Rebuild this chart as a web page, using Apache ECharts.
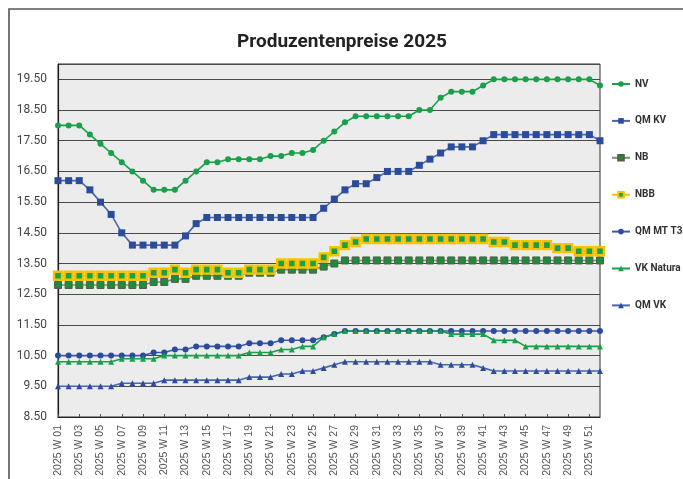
<!DOCTYPE html>
<html>
<head>
<meta charset="utf-8">
<script src="https://cdn.jsdelivr.net/npm/echarts@6/dist/echarts.min.js"></script>
<style>
html,body{margin:0;padding:0;background:#fff;}
#chart{width:683px;height:479px;}
</style>
</head>
<body>
<div id="chart"></div>
<script>
var weeks = ["2025 W 01","2025 W 02","2025 W 03","2025 W 04","2025 W 05","2025 W 06","2025 W 07","2025 W 08","2025 W 09","2025 W 10",
"2025 W 11","2025 W 12","2025 W 13","2025 W 14","2025 W 15","2025 W 16","2025 W 17","2025 W 18","2025 W 19","2025 W 20",
"2025 W 21","2025 W 22","2025 W 23","2025 W 24","2025 W 25","2025 W 26","2025 W 27","2025 W 28","2025 W 29","2025 W 30",
"2025 W 31","2025 W 32","2025 W 33","2025 W 34","2025 W 35","2025 W 36","2025 W 37","2025 W 38","2025 W 39","2025 W 40",
"2025 W 41","2025 W 42","2025 W 43","2025 W 44","2025 W 45","2025 W 46","2025 W 47","2025 W 48","2025 W 49","2025 W 50",
"2025 W 51","2025 W 52"];

var seriesNames = ["NV","QM KV","NB","NBB","QM MT T3","VK Natura","QM VK"];

var nv = [18.0,18.0,18.0,17.7,17.4,17.1,16.8,16.5,16.2,15.9,
15.9,15.9,16.2,16.5,16.8,16.8,16.9,16.9,16.9,16.9,
17.0,17.0,17.1,17.1,17.2,17.5,17.8,18.1,18.3,18.3,
18.3,18.3,18.3,18.3,18.5,18.5,18.9,19.1,19.1,19.1,
19.3,19.5,19.5,19.5,19.5,19.5,19.5,19.5,19.5,19.5,
19.5,19.3];

var qmkv = [16.2,16.2,16.2,15.9,15.5,15.1,14.5,14.1,14.1,14.1,
14.1,14.1,14.4,14.8,15.0,15.0,15.0,15.0,15.0,15.0,
15.0,15.0,15.0,15.0,15.0,15.3,15.6,15.9,16.1,16.1,
16.3,16.5,16.5,16.5,16.7,16.9,17.1,17.3,17.3,17.3,
17.5,17.7,17.7,17.7,17.7,17.7,17.7,17.7,17.7,17.7,
17.7,17.5];

var nb = [12.8,12.8,12.8,12.8,12.8,12.8,12.8,12.8,12.8,12.9,
12.9,13.0,13.0,13.1,13.1,13.1,13.1,13.1,13.2,13.2,
13.2,13.3,13.3,13.3,13.3,13.4,13.5,13.6,13.6,13.6,
13.6,13.6,13.6,13.6,13.6,13.6,13.6,13.6,13.6,13.6,
13.6,13.6,13.6,13.6,13.6,13.6,13.6,13.6,13.6,13.6,
13.6,13.6];

var nbb = [13.1,13.1,13.1,13.1,13.1,13.1,13.1,13.1,13.1,13.2,
13.2,13.3,13.2,13.3,13.3,13.3,13.2,13.2,13.3,13.3,
13.3,13.5,13.5,13.5,13.5,13.7,13.9,14.1,14.2,14.3,
14.3,14.3,14.3,14.3,14.3,14.3,14.3,14.3,14.3,14.3,
14.3,14.2,14.2,14.1,14.1,14.1,14.1,14.0,14.0,13.9,
13.9,13.9];

var qmmt = [10.5,10.5,10.5,10.5,10.5,10.5,10.5,10.5,10.5,10.6,
10.6,10.7,10.7,10.8,10.8,10.8,10.8,10.8,10.9,10.9,
10.9,11.0,11.0,11.0,11.0,11.1,11.2,11.3,11.3,11.3,
11.3,11.3,11.3,11.3,11.3,11.3,11.3,11.3,11.3,11.3,
11.3,11.3,11.3,11.3,11.3,11.3,11.3,11.3,11.3,11.3,
11.3,11.3];

var vkNatura = [10.3,10.3,10.3,10.3,10.3,10.3,10.4,10.4,10.4,10.4,
10.5,10.5,10.5,10.5,10.5,10.5,10.5,10.5,10.6,10.6,
10.6,10.7,10.7,10.8,10.8,11.1,11.2,11.3,11.3,11.3,
11.3,11.3,11.3,11.3,11.3,11.3,11.3,11.2,11.2,11.2,
11.2,11.0,11.0,11.0,10.8,10.8,10.8,10.8,10.8,10.8,
10.8,10.8];

var qmvk = [9.5,9.5,9.5,9.5,9.5,9.5,9.6,9.6,9.6,9.6,
9.7,9.7,9.7,9.7,9.7,9.7,9.7,9.7,9.8,9.8,
9.8,9.9,9.9,10.0,10.0,10.1,10.2,10.3,10.3,10.3,
10.3,10.3,10.3,10.3,10.3,10.3,10.2,10.2,10.2,10.2,
10.1,10.0,10.0,10.0,10.0,10.0,10.0,10.0,10.0,10.0,
10.0,10.0];

var yMin = 8.5, yMax = 20, yStep = 1;

var GREEN = '#18a04a', BLUE = '#2b4c9c', YELLOW = '#f7c300';
var FONT = "Roboto, 'Liberation Sans', Arial, sans-serif";

function lineSeries(name, data, symbol, size, color, lineColor, extra) {
  var s = {
    name: name, type: 'line', data: data,
    symbol: symbol, symbolSize: size, showSymbol: true, showAllSymbol: true,
    itemStyle: { color: color },
    lineStyle: { color: lineColor, width: 1.6 },
    emphasis: { disabled: true },
    animation: false
  };
  if (extra) { for (var k in extra) s[k] = extra[k]; }
  return s;
}

var chart = echarts.init(document.getElementById('chart'));
chart.setOption({
  backgroundColor: '#ffffff',
  animation: false,
  title: {
    text: 'Produzentenpreise 2025',
    left: 337, top: 28, textAlign: 'center',
    textStyle: { fontFamily: FONT, fontSize: 19, fontWeight: 'bold', color: '#222' }
  },
  graphic: [{
    type: 'polyline',
    shape: { points: [[9, 479], [9, 9], [683, 9]] },
    style: { stroke: '#555', lineWidth: 1.6, fill: null },
    silent: true
  }],
  legend: {
    orient: 'vertical',
    left: 611, top: 79, padding: 0,
    itemWidth: 18, itemHeight: 7, itemGap: 26.9,
    textStyle: { fontFamily: FONT, fontSize: 10, fontWeight: 'bold', color: '#333' },
    data: seriesNames
  },
  grid: {
    left: 58, right: 83, top: 64, bottom: 62,
    show: true, backgroundColor: '#ececec', borderColor: '#333', borderWidth: 1
  },
  xAxis: {
    type: 'category', data: weeks, boundaryGap: false,
    axisLine: { lineStyle: { color: '#222', width: 1.2 } },
    axisTick: { show: true, inside: true, length: 3, interval: 1, lineStyle: { color: '#555' } },
    axisLabel: { interval: 1, rotate: 90, margin: 8, fontSize: 10.5, color: '#555', fontFamily: "'Liberation Sans', Arial, sans-serif" },
    splitLine: { show: false }
  },
  yAxis: {
    type: 'value', min: yMin, max: yMax, interval: yStep,
    axisLine: { show: true, lineStyle: { color: '#222', width: 1.2 } },
    axisTick: { show: false },
    axisLabel: {
      showMaxLabel: false, margin: 11, fontSize: 12, color: '#444', fontFamily: FONT,
      formatter: function (v) { return v.toFixed(2); }
    },
    splitLine: { show: true, lineStyle: { color: '#4a4a4a', width: 1.2 } }
  },
  series: [
    lineSeries('NV', nv, 'circle', 6, GREEN, GREEN),
    lineSeries('QM KV', qmkv, 'rect', 7, BLUE, '#4a66ae'),
    lineSeries('NB', nb, 'rect', 7, '#1f8c3b', '#7d8c72', { itemStyle: { color: '#1f8c3b', borderColor: '#4f6048', borderWidth: 1 } }),
    lineSeries('NBB', nbb, 'rect', 8, GREEN, YELLOW, { itemStyle: { color: GREEN, borderColor: YELLOW, borderWidth: 2.4 }, lineStyle: { color: YELLOW, width: 2 } }),
    lineSeries('QM MT T3', qmmt, 'circle', 6, BLUE, '#3b5aaa'),
    lineSeries('VK Natura', vkNatura, 'triangle', 6, GREEN, GREEN),
    lineSeries('QM VK', qmvk, 'triangle', 6, BLUE, '#4a66ae')
  ]
});
</script>
</body>
</html>
